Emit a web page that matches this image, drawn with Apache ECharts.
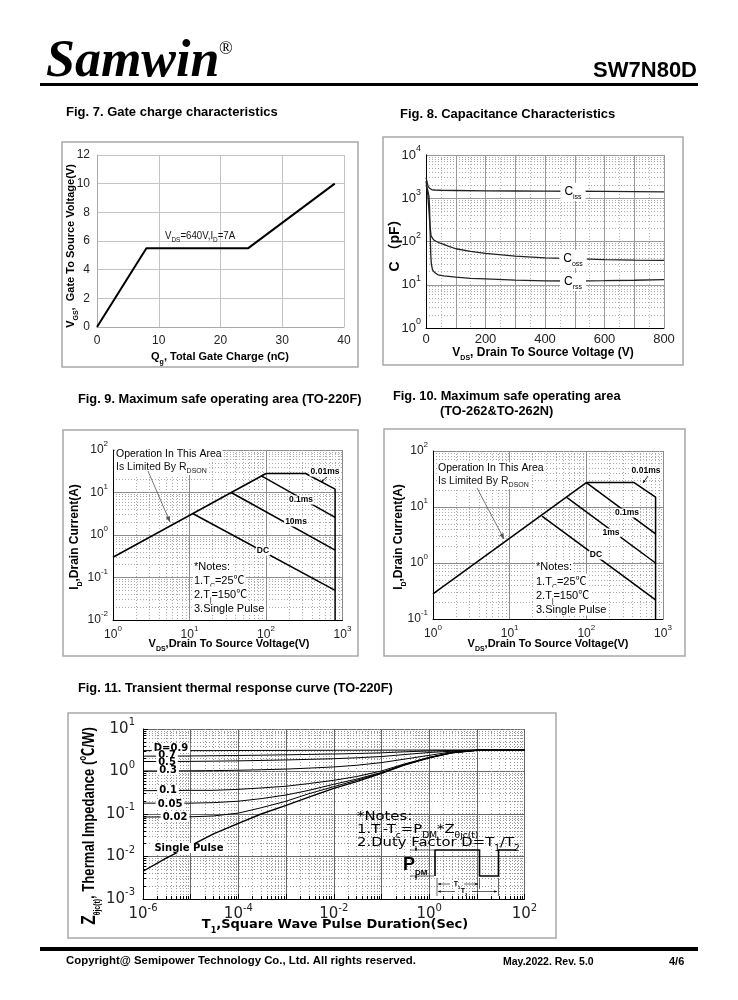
<!DOCTYPE html>
<html><head><meta charset="utf-8">
<script src="https://cdn.jsdelivr.net/npm/echarts@6/dist/echarts.min.js"></script>
<style>html,body{margin:0;padding:0;background:#fff}#c{width:738px;height:1000px}</style>
</head><body><div id="c"></div>
<script>
// ================= DATA =================
// Fig.7 Gate charge characteristics
const fig7Qg  = [0, 8, 24.5, 38.5];
const fig7Vgs = [0, 5.5, 5.5, 10];
// Fig.8 Capacitance characteristics
const fig8CissV = [0, 3, 6, 10, 15, 20, 30, 50, 100, 200, 300, 400, 500, 600, 700, 800];
const fig8Ciss  = [3000, 2500, 2000, 1750, 1620, 1570, 1550, 1530, 1510, 1480, 1470, 1460, 1450, 1440, 1420, 1400];
const fig8CossV = [0, 5, 10, 13, 17, 25, 35, 50, 75, 100, 150, 200, 300, 400, 500, 600, 700, 800];
const fig8Coss  = [2500, 1500, 500, 250, 135, 110, 100, 90, 78, 68, 59, 53, 46, 42, 40, 38, 37, 36.5];
const fig8CrssV = [0, 5, 10, 12, 14, 16, 18, 22, 28, 40, 60, 100, 150, 200, 300, 400, 500, 600, 700, 800];
const fig8Crss  = [2000, 1600, 1100, 600, 150, 50, 30, 22, 19.5, 17, 16, 15, 14, 13.6, 12.8, 12.3, 12.2, 12.4, 12.7, 13.2];
// Fig.9 SOA (TO-220F)
const fig9RdsV = [1, 100],            fig9RdsI = [0.3, 28];
const fig9P001V = [100, 330, 800, 800], fig9P001I = [28, 28, 12, 0.01];
const fig9P01V = [87, 800],           fig9P01I = [24.5, 2.6];
const fig9P10V = [35, 800],           fig9P10I = [10, 0.44];
const fig9DcV = [11, 800],            fig9DcI = [3.2, 0.05];
// Fig.10 SOA (TO-262 & TO-262N)
const fig10RdsV = [1, 100],             fig10RdsI = [0.28, 27.3];
const fig10P001V = [100, 420, 800, 800], fig10P001I = [27.3, 27.3, 15, 0.1];
const fig10P01V = [100, 800],           fig10P01I = [27.3, 3.3];
const fig10P1V = [56, 800],             fig10P1I = [14.7, 1.0];
const fig10DcV = [26.4, 800],           fig10DcI = [6.9, 0.22];
// Fig.11 Transient thermal response
const fig11T = [1e-6, 3e-6, 1e-5, 3e-5, 1e-4, 3e-4, 1e-3, 3e-3, 1e-2, 3e-2, 0.1, 0.3, 1, 3, 10, 100];
const fig11D09 = [3.1, 3.1, 3.1, 3.1, 3.12, 3.13, 3.14, 3.15, 3.16, 3.17, 3.18, 3.19, 3.2, 3.2, 3.2, 3.2];
const fig11D07 = [2.3, 2.3, 2.32, 2.35, 2.38, 2.42, 2.47, 2.52, 2.58, 2.65, 2.75, 2.9, 3.05, 3.12, 3.19, 3.2];
const fig11D05 = [1.72, 1.72, 1.73, 1.75, 1.78, 1.82, 1.87, 1.93, 2.0, 2.1, 2.25, 2.5, 2.8, 3.0, 3.18, 3.2];
const fig11D03 = [1.03, 1.03, 1.04, 1.05, 1.07, 1.1, 1.14, 1.2, 1.28, 1.4, 1.62, 1.95, 2.4, 2.9, 3.17, 3.2];
const fig11D01 = [0.355, 0.355, 0.36, 0.36, 0.38, 0.41, 0.45, 0.52, 0.62, 0.76, 1.03, 1.5, 2.15, 2.78, 3.15, 3.2];
const fig11D005 = [0.18, 0.18, 0.18, 0.185, 0.2, 0.23, 0.28, 0.36, 0.5, 0.66, 0.95, 1.45, 2.12, 2.76, 3.15, 3.2];
const fig11D002 = [0.085, 0.085, 0.086, 0.09, 0.105, 0.14, 0.2, 0.3, 0.44, 0.62, 0.92, 1.43, 2.1, 2.75, 3.15, 3.2];
const fig11Single = [0.0045, 0.009, 0.018, 0.034, 0.06, 0.10, 0.16, 0.25, 0.40, 0.58, 0.90, 1.42, 2.1, 2.75, 3.15, 3.2];

// ================= HELPERS =================
const LS = '"Liberation Sans", Arial, sans-serif';
const DV = '"DejaVu Sans", sans-serif';
const CJK = '"Liberation Sans", "Noto Sans CJK SC", sans-serif';

function pairs(xs, ys) { return xs.map((x, i) => [x, ys[i]]); }
function lineSeries(idx, xs, ys, width, color) {
  return { type: 'line', xAxisIndex: idx, yAxisIndex: idx, data: pairs(xs, ys),
    showSymbol: false, symbol: 'none', silent: true, animation: false, z: 5,
    lineStyle: { color: color || '#000', width: width || 1.5 } };
}
function powFmt(skipOdd) {
  return v => { const e = Math.round(Math.log10(v)); if (skipOdd && e % 2 !== 0) return ''; return '{b|10}{s|' + e + '}'; };
}
function powRich(fs, sfs, ff, color) {
  return {
    b: { fontSize: fs, fontFamily: ff, color: color, lineHeight: fs + 8, verticalAlign: 'middle' },
    s: { fontSize: sfs, fontFamily: ff, color: color, lineHeight: sfs + 2, verticalAlign: 'top' }
  };
}
function richStyles(fs, ff, bold, color, ss, lh) {
  const w = bold ? 'bold ' : '';
  const s = Math.round(fs * (ss || 0.62));
  lh = lh || Math.round(fs * 1.5);
  return {
    n: { font: w + fs + 'px ' + ff, fill: color, lineHeight: lh, verticalAlign: 'middle' },
    sb: { font: w + s + 'px ' + ff, fill: color, lineHeight: s + 2, verticalAlign: 'bottom' },
    sp: { font: w + s + 'px ' + ff, fill: color, lineHeight: s + 2, verticalAlign: 'top' },
    big: { font: w + Math.round(fs * 1.2) + 'px ' + ff, fill: color, lineHeight: lh, verticalAlign: 'middle' }
  };
}
function R(x, y, text, fs, o) {
  o = o || {};
  const ff = o.ff || LS;
  const el = {
    type: 'text', x: x, y: y, z: o.z || 50, silent: true,
    rotation: o.rot || 0, scaleX: o.sx || 1, scaleY: o.sy || 1,
    style: {
      text: text, rich: richStyles(fs, ff, o.bold, o.color || '#000', o.ss, o.lh),
      font: (o.bold ? 'bold ' : '') + fs + 'px ' + ff, fill: o.color || '#000',
      align: o.align || 'left', verticalAlign: 'middle',
      textAlign: o.align || 'left', textVerticalAlign: 'middle'
    }
  };
  if (o.bg) { el.style.backgroundColor = o.bg; el.style.padding = o.pad || [0, 2]; }
  return el;
}
function box(x, y, w, h, stroke, lw) {
  return { type: 'rect', z: 1, silent: true, shape: { x: x, y: y, width: w, height: h },
    style: { fill: 'none', stroke: stroke || '#a8a8a8', lineWidth: lw || 1.5 } };
}
function fillRect(x, y, w, h, color) {
  return { type: 'rect', z: 1, silent: true, shape: { x: x, y: y, width: w, height: h }, style: { fill: color || '#000' } };
}
function seg(x1, y1, x2, y2, color, lw) {
  return { type: 'line', z: 60, silent: true, shape: { x1: x1, y1: y1, x2: x2, y2: y2 }, style: { stroke: color || '#000', lineWidth: lw || 1 } };
}
function arrow(x1, y1, x2, y2, color, lw, head) {
  head = head || 5;
  const a = Math.atan2(y2 - y1, x2 - x1);
  const p1 = [x2 - head * Math.cos(a - 0.4), y2 - head * Math.sin(a - 0.4)];
  const p2 = [x2 - head * Math.cos(a + 0.4), y2 - head * Math.sin(a + 0.4)];
  return [seg(x1, y1, x2, y2, color, lw),
    { type: 'polygon', z: 61, silent: true, shape: { points: [[x2, y2], p1, p2] }, style: { fill: color || '#000' } }];
}

// axis builders
function linAxis(idx, min, max, interval, o) {
  o = o || {};
  return {
    type: 'value', gridIndex: idx, min: min, max: max, interval: interval,
    axisLine: { show: true, onZero: false, lineStyle: { color: o.axisColor || '#000', width: 1 } },
    axisTick: { show: false },
    axisLabel: { show: true, margin: o.margin || 6, fontSize: o.fs || 12, fontFamily: LS, color: '#222', formatter: o.fmt },
    splitLine: { show: true, lineStyle: { color: o.splitColor || '#bbb', width: 1 } },
    minorTick: { show: false, splitNumber: o.minorSplit || 5 },
    minorSplitLine: { show: !!o.minorSplit, lineStyle: { color: '#b8b8b8', type: [1, 2], width: 1 } }
  };
}
function logAxis(idx, min, max, o) {
  o = o || {};
  return {
    type: 'log', logBase: 10, gridIndex: idx, min: min, max: max,
    axisLine: { show: true, onZero: false, lineStyle: { color: '#000', width: 1 } },
    axisTick: o.ticks ? { show: true, inside: true, length: 5, lineStyle: { color: '#000' } } : { show: false },
    axisLabel: { show: true, margin: o.margin || 6, formatter: powFmt(o.skipOdd),
      rich: powRich(o.fs || 12, o.sfs || 8, o.ff || LS, '#222') },
    splitLine: { show: true, lineStyle: { color: o.majorColor || '#8c8c8c', width: 1 } },
    minorTick: o.ticks ? { show: true, splitNumber: 9, length: 3, lineStyle: { color: '#000' } } : { show: false, splitNumber: 9 },
    minorSplitLine: { show: true, lineStyle: { color: o.minorColor || '#aaa', type: [1, 2], width: 1 } }
  };
}

// ================= GRAPHICS (page furniture & annotations) =================
const g = [];
// header
g.push(R(46, 63, 'Samwin', 52, { ff: '"Liberation Serif", "Times New Roman", serif', bold: true, z: 50 }));
g[g.length - 1].style.font = 'italic bold 52px "Liberation Serif", "Times New Roman", serif';
g[g.length - 1].style.rich = null;
g.push(R(219, 49, '®', 18, { ff: '"Liberation Serif", serif' }));
g.push(R(697, 71, 'SW7N80D', 22, { bold: true, align: 'right' }));
g.push(fillRect(40, 83, 658, 3));
// titles
g.push(R(66, 112, 'Fig. 7. Gate charge characteristics', 13, { bold: true }));
g.push(R(400, 114, 'Fig. 8. Capacitance Characteristics', 13, { bold: true }));
g.push(R(78, 399, 'Fig. 9. Maximum safe operating area (TO-220F)', 12.8, { bold: true }));
g.push(R(393, 396, 'Fig. 10. Maximum safe operating area', 12.8, { bold: true }));
g.push(R(440, 411, '(TO-262&TO-262N)', 12.8, { bold: true }));
g.push(R(78, 688, 'Fig. 11. Transient thermal response curve (TO-220F)', 12.8, { bold: true }));
// footer
g.push(fillRect(40, 947, 658, 4));
g.push(R(66, 961, 'Copyright@ Semipower Technology Co., Ltd. All rights reserved.', 11.5, { bold: true, sx: 0.99 }));
g.push(R(503, 962, 'May.2022. Rev. 5.0', 10.5, { bold: true }));
g.push(R(669, 962, '4/6', 11, { bold: true }));
// panel boxes
g.push(box(62, 142, 296, 225));
g.push(box(383, 137, 300, 228));
g.push(box(63, 430, 295, 226));
g.push(box(384, 429, 301, 227));
g.push(box(68, 713, 488, 225));

// Fig 7 texts
g.push(R(71, 246, '{n|V}{sb|GS}{n|,  Gate To Source Voltage(V)}', 11, { bold: true, align: 'center', rot: Math.PI / 2 }));
g.push(R(220, 357, '{n|Q}{sb|g}{n|, Total Gate Charge (nC)}', 11, { bold: true, align: 'center' }));
g.push(R(165, 236, '{n|V}{sb|DS}{n|=640V,I}{sb|D}{n|=7A}', 10.5, { color: '#111', sx: 0.92 }));

// Fig 8 texts
g.push(R(395, 242, 'C （pF）', 14, { bold: true, align: 'center', rot: Math.PI / 2, ff: CJK }));
g.push(R(543, 353, '{n|V}{sb|DS}{n|, Drain To Source Voltage (V)}', 12, { bold: true, align: 'center' }));
g.push(R(573, 192, '{n|C}{sb|iss}', 12, { align: 'center', bg: '#fff', pad: [0, 4] }));
g.push(R(573, 259, '{n|C}{sb|oss}', 12, { align: 'center', bg: '#fff', pad: [0, 4] }));
g.push(R(573, 282, '{n|C}{sb|rss}', 12, { align: 'center', bg: '#fff', pad: [0, 4] }));

// Fig 9 texts
g.push(R(75, 537, '{n|I}{sb|D}{n|,Drain Current(A)}', 12, { bold: true, align: 'center', rot: Math.PI / 2 }));
g.push(R(229, 644, '{n|V}{sb|DS}{n|,Drain To Source Voltage(V)}', 11, { bold: true, align: 'center' }));
g.push(R(115, 454, 'Operation In This Area', 10.5, { bg: '#fff', pad: [0, 1] }));
g.push(R(115, 467, '{n|Is Limited By R}{sb|DSON}', 10.5, { bg: '#fff', pad: [0, 1], color: '#111' }));
g.push(...arrow(148, 471, 170, 522, '#555', 0.8, 6));
g.push(R(325, 472, '0.01ms', 8.5, { bold: true, align: 'center', bg: '#fff', pad: [0, 1] }));
g.push(...arrow(327, 477, 321, 482, '#000', 0.8, 3));
g.push(R(301, 500, '0.1ms', 8.5, { bold: true, align: 'center', bg: '#fff', pad: [0, 1] }));
g.push(R(296, 522, '10ms', 8.5, { bold: true, align: 'center', bg: '#fff', pad: [0, 1] }));
g.push(R(263, 551, 'DC', 8.5, { bold: true, align: 'center', bg: '#fff', pad: [0, 1] }));
g.push(R(193, 567, '*Notes:', 11, { bg: '#fff', pad: [0, 1] }));
g.push(R(193, 581, '{n|1.T}{sb|C}{n|=25℃}', 11, { bg: '#fff', pad: [0, 1], ff: CJK }));
g.push(R(193, 595, '{n|2.T}{sb|j}{n|=150℃}', 11, { bg: '#fff', pad: [0, 1], ff: CJK }));
g.push(R(193, 609, '3.Single Pulse', 11, { bg: '#fff', pad: [0, 1] }));

// Fig 10 texts
g.push(R(399, 537, '{n|I}{sb|D}{n|,Drain Current(A)}', 12, { bold: true, align: 'center', rot: Math.PI / 2 }));
g.push(R(548, 644, '{n|V}{sb|DS}{n|,Drain To Source Voltage(V)}', 11, { bold: true, align: 'center' }));
g.push(R(437, 468, 'Operation In This Area', 10.5, { bg: '#fff', pad: [0, 1] }));
g.push(R(437, 481, '{n|Is Limited By R}{sb|DSON}', 10.5, { bg: '#fff', pad: [0, 1], color: '#111' }));
g.push(...arrow(477, 488, 504, 539, '#555', 0.8, 6));
g.push(R(646, 471, '0.01ms', 8.5, { bold: true, align: 'center', bg: '#fff', pad: [0, 1] }));
g.push(...arrow(648, 476, 643, 483, '#000', 0.8, 3));
g.push(R(627, 513, '0.1ms', 8.5, { bold: true, align: 'center', bg: '#fff', pad: [0, 1] }));
g.push(R(611, 533, '1ms', 8.5, { bold: true, align: 'center', bg: '#fff', pad: [0, 1] }));
g.push(R(596, 555, 'DC', 8.5, { bold: true, align: 'center', bg: '#fff', pad: [0, 1] }));
g.push(R(535, 567, '*Notes:', 11, { bg: '#fff', pad: [0, 1] }));
g.push(R(535, 582, '{n|1.T}{sb|C}{n|=25℃}', 11, { bg: '#fff', pad: [0, 1], ff: CJK }));
g.push(R(535, 596, '{n|2.T}{sb|j}{n|=150℃}', 11, { bg: '#fff', pad: [0, 1], ff: CJK }));
g.push(R(535, 610, '3.Single Pulse', 11, { bg: '#fff', pad: [0, 1] }));

// Fig 11 texts
g.push(R(89, 826, '{big|Z}{sb|θjc(t)}{n|, Thermal Impedance (℃/W)}', 17, { bold: true, align: 'center', rot: Math.PI / 2, sx: 0.77, ff: CJK, ss: 0.55 }));
g.push(R(335, 925, '{n|T}{sb|1}{n|,Square Wave Pulse Duration(Sec)}', 13, { bold: true, align: 'center', ff: DV }));
g.push(R(171, 748, 'D=0.9', 10, { bold: true, ff: DV, align: 'center', bg: '#fff', pad: [0, 2] }));
g.push(R(167, 755.5, '0.7', 10, { bold: true, ff: DV, align: 'center', bg: '#fff', pad: [0, 2] }));
g.push(R(167, 762, '0.5', 10, { bold: true, ff: DV, align: 'center', bg: '#fff', pad: [0, 2] }));
g.push(R(168, 770, '0.3', 10, { bold: true, ff: DV, align: 'center', bg: '#fff', pad: [0, 2] }));
g.push(R(168, 790.5, '0.1', 10, { bold: true, ff: DV, align: 'center', bg: '#fff', pad: [0, 2] }));
g.push(R(170, 804, '0.05', 10, { bold: true, ff: DV, align: 'center', bg: '#fff', pad: [0, 2] }));
g.push(R(175, 817, '0.02', 10, { bold: true, ff: DV, align: 'center', bg: '#fff', pad: [0, 2] }));
g.push(R(189, 848, 'Single Pulse', 10, { bold: true, ff: DV, align: 'center', bg: '#fff', pad: [0, 2] }));
g.push(R(357, 817, '*Notes:', 13, { ff: DV, sx: 1.14 }));
g.push(R(357, 830, '{n|1.T}{sb|j}{n|-T}{sb|c}{n|=P}{sb|DM}{n|*Z}{sb|θjc(t)}', 13, { ff: DV, sx: 1.14 }));
g.push(R(357, 843, '{n|2.Duty Factor D=T}{sb|1}{n|/T}{sb|2}', 13, { ff: DV, sx: 1.14 }));
// pulse diagram
g.push({ type: 'polyline', z: 60, silent: true,
  shape: { points: [[435, 876], [435, 850], [479.5, 850], [479.5, 876], [498.5, 876], [498.5, 850], [516, 850]] },
  style: { stroke: '#000', lineWidth: 1.6, fill: null } });
g.push(R(403, 865, '{big|P}{sb|DM}', 15, { bold: true, ff: LS, ss: 0.5 }));
g.push(...arrow(416, 846, 416, 851, '#000', 0.8, 3));
g.push(...arrow(416, 880, 416, 875, '#000', 0.8, 3));
g.push(seg(410, 850, 434, 850, '#000', 0.6));
g.push(seg(410, 876, 434, 876, '#000', 0.6));
g.push(seg(437, 878, 437, 896, '#000', 0.6));
g.push(seg(479.5, 878, 479.5, 889, '#000', 0.6));
g.push(seg(498.5, 878, 498.5, 896, '#000', 0.6));
g.push(...arrow(450, 884, 438, 884, '#000', 0.6, 3));
g.push(...arrow(464, 884, 478, 884, '#000', 0.6, 3));
g.push(R(457, 884, '{n|T}{sb|1}', 7, { align: 'center', ff: LS, bold: true }));
g.push(...arrow(455, 891.5, 438, 891.5, '#000', 0.6, 3));
g.push(...arrow(472, 891.5, 497, 891.5, '#000', 0.6, 3));
g.push(R(464, 891.5, '{n|T}{sb|2}', 7, { align: 'center', ff: LS, bold: true }));

// ================= OPTION =================
const option = {
  animation: false,
  backgroundColor: '#fff',
  textStyle: { fontFamily: LS },
  grid: [
    { left: 97, top: 155, width: 247, height: 172 },
    { left: 426, top: 155, width: 238, height: 173 },
    { left: 113, top: 450, width: 229.5, height: 170 },
    { left: 433, top: 451, width: 230, height: 168 },
    { left: 143, top: 729, width: 381.5, height: 170 }
  ],
  xAxis: [
    linAxis(0, 0, 40, 10, { axisColor: '#aaa', splitColor: '#c4c4c4', margin: 8 }),
    linAxis(1, 0, 800, 100, { fs: 13, splitColor: '#999', minorSplit: 2, margin: 5, fmt: v => (v % 200 === 0 ? String(v) : '') }),
    logAxis(2, 1, 1000, { margin: 5 }),
    logAxis(3, 1, 1000, { margin: 5 }),
    logAxis(4, 1e-6, 100, { skipOdd: true, fs: 15, sfs: 10, ff: DV, margin: 4, majorColor: '#666', minorColor: '#999', ticks: true })
  ],
  yAxis: [
    linAxis(0, 0, 12, 2, { axisColor: '#aaa', splitColor: '#c4c4c4', margin: 7 }),
    logAxis(1, 1, 10000, { fs: 13, sfs: 9, margin: 5, majorColor: '#999' }),
    logAxis(2, 0.01, 100, { margin: 5 }),
    logAxis(3, 0.1, 100, { margin: 5 }),
    logAxis(4, 0.001, 10, { fs: 15, sfs: 10, ff: DV, margin: 8, majorColor: '#666', minorColor: '#999', ticks: true })
  ],
  series: [
    lineSeries(0, fig7Qg, fig7Vgs, 2),
    lineSeries(1, fig8CissV, fig8Ciss, 1.3, '#222'),
    lineSeries(1, fig8CossV, fig8Coss, 1.3, '#222'),
    lineSeries(1, fig8CrssV, fig8Crss, 1.3, '#222'),
    lineSeries(2, fig9RdsV, fig9RdsI, 1.5),
    lineSeries(2, fig9P001V, fig9P001I, 1.5),
    lineSeries(2, fig9P01V, fig9P01I, 1.5),
    lineSeries(2, fig9P10V, fig9P10I, 1.5),
    lineSeries(2, fig9DcV, fig9DcI, 1.5),
    lineSeries(3, fig10RdsV, fig10RdsI, 1.5),
    lineSeries(3, fig10P001V, fig10P001I, 1.5),
    lineSeries(3, fig10P01V, fig10P01I, 1.5),
    lineSeries(3, fig10P1V, fig10P1I, 1.5),
    lineSeries(3, fig10DcV, fig10DcI, 1.5),
    lineSeries(4, fig11T, fig11D09, 1),
    lineSeries(4, fig11T, fig11D07, 1),
    lineSeries(4, fig11T, fig11D05, 1),
    lineSeries(4, fig11T, fig11D03, 1),
    lineSeries(4, fig11T, fig11D01, 1),
    lineSeries(4, fig11T, fig11D005, 1),
    lineSeries(4, fig11T, fig11D002, 1),
    lineSeries(4, fig11T, fig11Single, 1.4)
  ],
  graphic: { elements: g }
};
const chart = echarts.init(document.getElementById('c'), null, { renderer: 'canvas' });
chart.setOption(option);
</script>
</body></html>
